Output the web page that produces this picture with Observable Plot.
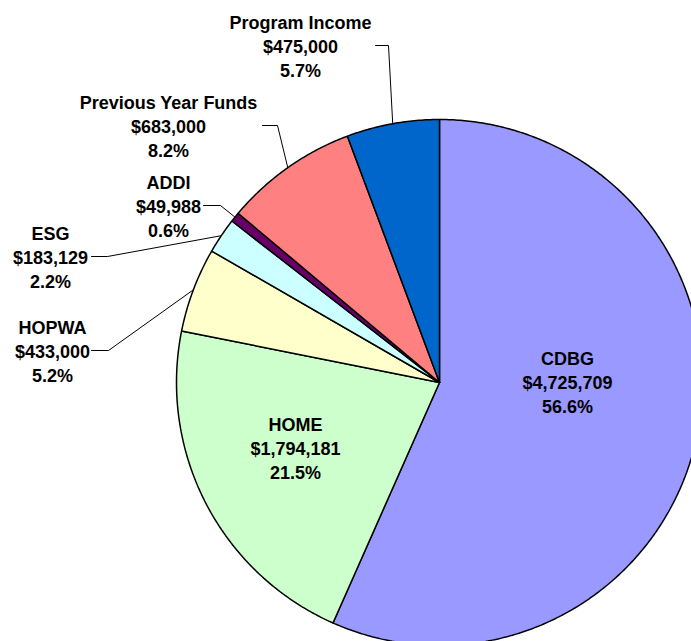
<!DOCTYPE html>
<html>
<head>
<meta charset="utf-8">
<script src="https://cdn.jsdelivr.net/npm/d3@7"></script>
<script src="https://cdn.jsdelivr.net/npm/@observablehq/plot@0.6"></script>
<style>
  html, body { margin: 0; padding: 0; background: #fff; }
  svg { display: block; }
</style>
</head>
<body>
<div id="chart"></div>
<script>
// ---- data ----
const names = ["CDBG", "HOME", "HOPWA", "ESG", "ADDI", "Previous Year Funds", "Program Income"];
const values = [4725709, 1794181, 433000, 183129, 49988, 683000, 475000];
const colors = ["#9999FF", "#CCFFCC", "#FFFFCC", "#CCFFFF", "#660066", "#FF8080", "#0066CC"];

// ---- layout (pixels) ----
const W = 691, H = 641;
const CX = 439, CY = 382, R = 263;
// label block centre (x, middle-line y); leader line start and elbow for outside labels
const labelLayout = {
  "CDBG": { x: 567, y: 381 },
  "HOME": { x: 295, y: 447 },
  "HOPWA": { x: 52, y: 350, start: 91, elbow: 108 },
  "ESG": { x: 50, y: 256, start: 91, elbow: 107 },
  "ADDI": { x: 168, y: 205, start: 203, elbow: 220 },
  "Previous Year Funds": { x: 168, y: 125, start: 262, elbow: 277 },
  "Program Income": { x: 300, y: 45, start: 375, elbow: 388 }
};

const total = d3.sum(values);
const fmtMoney = d3.format("$,");
const arcs = d3.pie().sort(null).value((d, i) => values[i])(names);

// slice polygons
const slicePts = [];
arcs.forEach(a => {
  const name = a.data;
  const n = Math.max(2, Math.ceil((a.endAngle - a.startAngle) / (Math.PI / 360)));
  slicePts.push({ name, x: CX, y: CY });
  for (let k = 0; k <= n; k++) {
    const t = a.startAngle + (a.endAngle - a.startAngle) * k / n;
    slicePts.push({ name, x: CX + R * Math.sin(t), y: CY - R * Math.cos(t) });
  }
  slicePts.push({ name, x: CX, y: CY });
});

// labels
const labels = arcs.map((a, i) => {
  const name = a.data;
  const L = labelLayout[name];
  return {
    name,
    x: L.x, y: L.y,
    text: `${name}\n${fmtMoney(values[i])}\n${(values[i] / total * 100).toFixed(1)}%`
  };
});

// leader lines
const leaders = [];
arcs.forEach(a => {
  const name = a.data;
  const L = labelLayout[name];
  if (L.start === undefined) return;
  const mid = (a.startAngle + a.endAngle) / 2;
  leaders.push({ name, x: L.start, y: L.y });
  leaders.push({ name, x: L.elbow, y: L.y });
  leaders.push({ name, x: CX + R * Math.sin(mid), y: CY - R * Math.cos(mid) });
});

const chart = Plot.plot({
  width: W,
  height: H,
  margin: 0,
  x: { domain: [0, W], range: [0, W], axis: null },
  y: { domain: [0, H], range: [0, H], axis: null },
  color: { domain: names, range: colors },
  style: { background: "#fff" },
  marks: [
    Plot.line(slicePts, {
      x: "x", y: "y", z: "name", fill: "name",
      stroke: "#000", strokeWidth: 1.5, strokeLinejoin: "miter"
    }),
    Plot.line(leaders, {
      x: "x", y: "y", z: "name", stroke: "#000", strokeWidth: 1, strokeLinejoin: "miter"
    }),
    Plot.text(labels, {
      x: "x", y: "y", text: "text",
      lineAnchor: "middle", lineHeight: 1.333,
      fontSize: 18, fontWeight: "bold",
      fontFamily: "'Liberation Sans', Arial, sans-serif",
      fill: "#000"
    })
  ]
});
document.getElementById("chart").appendChild(chart);
</script>
</body>
</html>
